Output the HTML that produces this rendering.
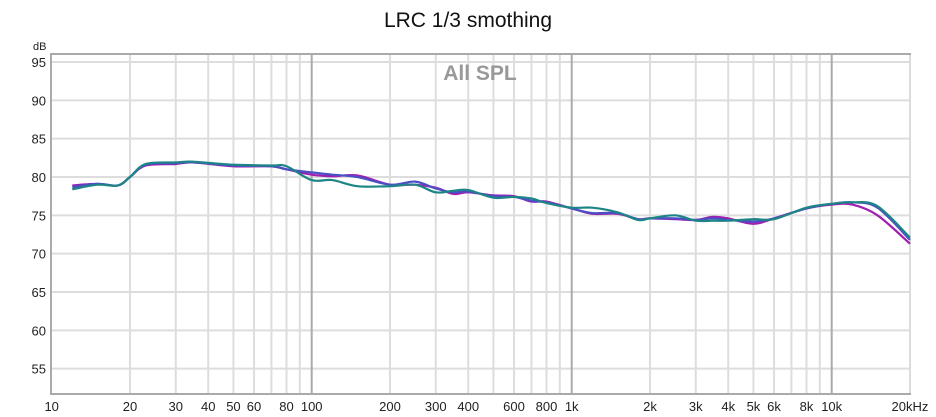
<!DOCTYPE html>
<html><head><meta charset="utf-8"><style>
body{margin:0;background:#fff;}
svg{display:block;font-family:"Liberation Sans",sans-serif;}
</style></head><body>
<svg id="chart" width="936" height="417">
<text x="468" y="27" text-anchor="middle" font-size="21" fill="#111">LRC 1/3 smothing</text>
<text x="33" y="50" font-size="11" fill="#222">dB</text>
<rect x="51" y="54" width="859" height="340" fill="#fff" stroke="#aaa" stroke-width="2"/>
<g id="grid"></g>
<text x="480" y="80" text-anchor="middle" font-size="21" font-weight="bold" fill="#999">All SPL</text>
<g id="ticks"></g>
<g id="series"></g>
</svg>
<script>
const freqP=[12,15,18,20,23,30,35,50,70,80,100,120,150,200,250,300,350,400,500,600,700,800,1000,1200,1500,1800,2000,2500,3000,3500,4000,5000,6000,8000,10000,12000,15000,20000];
const splPurple=[78.9,79.1,78.9,80.0,81.5,81.7,81.9,81.4,81.4,81.0,80.3,80.1,80.2,79.0,79.0,78.6,77.8,78.0,77.6,77.5,76.8,76.8,75.9,75.2,75.2,74.5,74.6,74.5,74.4,74.8,74.6,73.9,74.6,75.9,76.4,76.4,75.0,71.3];
const splBlue=[78.7,79.1,78.9,80.0,81.6,81.8,81.9,81.5,81.4,81.0,80.6,80.3,80.0,79.0,79.4,78.5,78.0,78.1,77.5,77.4,76.9,76.7,75.9,75.3,75.3,74.5,74.6,74.6,74.4,74.6,74.4,74.2,74.6,75.9,76.5,76.7,76.0,71.8];
const splTeal=[78.4,79.0,78.9,80.0,81.7,81.9,82.0,81.6,81.5,81.4,79.6,79.6,78.8,78.8,79.0,78.0,78.2,78.3,77.3,77.4,77.2,76.6,76.0,76.0,75.4,74.4,74.6,75.0,74.3,74.3,74.3,74.5,74.5,76.0,76.5,76.7,76.2,72.1];
const yTicks=[55,60,65,70,75,80,85,90,95];
const xTickVals=[10,20,30,40,50,60,80,100,200,300,400,600,800,1000,2000,3000,4000,5000,6000,8000,10000,20000];
const xTickLabels=["10","20","30","40","50","60","80","100","200","300","400","600","800","1k","2k","3k","4k","5k","6k","8k","10k","20kHz"];
const X0=51.7,DEC=260,Y80=177,PXDB=7.667;
function xs(f){return X0+DEC*Math.log10(f/10);}
function ys(d){return Y80-(d-80)*PXDB;}
const NS="http://www.w3.org/2000/svg";
function mk(t,a,p){const e=document.createElementNS(NS,t);for(const k in a)e.setAttribute(k,a[k]);p.appendChild(e);return e;}
const grid=document.getElementById('grid'),ticks=document.getElementById('ticks'),ser=document.getElementById('series');
for(const d of yTicks){
 const l=mk('line',{x1:52,x2:909,y1:ys(d),y2:ys(d),stroke:'#ddd','stroke-width':2},grid);
 
 
 const t=mk('text',{x:46,y:ys(d)+5,'text-anchor':'end','font-size':13,fill:'#222'},ticks);
 t.textContent=d;
 
 
}
for(let dec=10;dec<=10000;dec*=10){for(let m=1;m<=9;m++){const f=dec*m;if(f>20000||f===10)continue;
 const major=(m===1);
 const l=mk('line',{x1:xs(f),x2:xs(f),y1:55,y2:393,stroke:major?'#aaa':'#ddd','stroke-width':2},grid);
 
 
}}
xTickVals.forEach((f,i)=>{
 const t=mk('text',{x:xs(f),y:411,'text-anchor':'middle','font-size':13,fill:'#222'},ticks);
 t.textContent=xTickLabels[i];
 
 
});
function path(vals){
 const p=freqP.map((f,i)=>[xs(f),ys(vals[i])]);
 let d='M'+p[0][0]+','+p[0][1];
 for(let i=0;i<p.length-1;i++){
  const p0=p[i-1]||p[i],p1=p[i],p2=p[i+1],p3=p[i+2]||p2;
  const c1=[p1[0]+(p2[0]-p0[0])/6,p1[1]+(p2[1]-p0[1])/6],c2=[p2[0]-(p3[0]-p1[0])/6,p2[1]-(p3[1]-p1[1])/6];
  d+=' C'+c1+' '+c2+' '+p2;
 }
 return d;
}
const defs=[[splPurple,'#a01fb0','series-purple'],[splBlue,'#4a4fc4','series-blue'],[splTeal,'#1d8585','series-teal']];
for(const [v,c,n] of defs){
 const e=mk('path',{d:path(v),fill:'none',stroke:c,'stroke-width':2.2},ser);
 
 
}
</script>
</body></html>
